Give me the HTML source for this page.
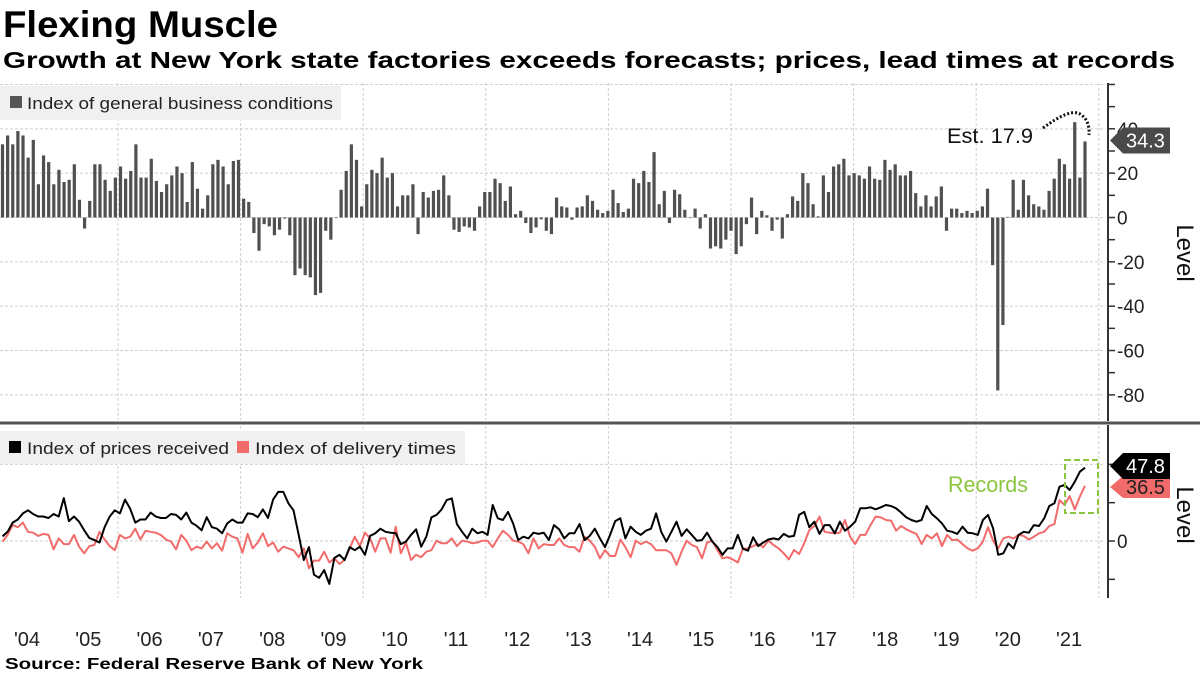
<!DOCTYPE html>
<html><head><meta charset="utf-8"><style>
html,body{margin:0;padding:0;background:#fff;}
svg{display:block;font-family:"Liberation Sans",sans-serif;}
</style></head><body>
<svg id="chart" width="1200" height="675" viewBox="0 0 1200 675" xmlns="http://www.w3.org/2000/svg">
<text x="3" y="37" font-size="37" font-weight="bold" fill="#000" textLength="275" lengthAdjust="spacingAndGlyphs">Flexing Muscle</text>
<text x="3" y="68" font-size="23" font-weight="bold" fill="#000" textLength="1172" lengthAdjust="spacingAndGlyphs">Growth at New York state factories exceeds forecasts; prices, lead times at records</text>
<g id="grid"></g>
<g id="bars"></g>
<g id="lines"></g>
<g id="axes"></g>
<rect x="0" y="421.5" width="1200" height="3" fill="#555"/>
<g>
<rect x="0" y="86" width="341" height="34" fill="#f0f0f0"/>
<rect x="10" y="96" width="12" height="12" fill="#555"/>
<text x="27" y="109" font-size="17" fill="#222" textLength="306" lengthAdjust="spacingAndGlyphs">Index of general business conditions</text>
</g>
<g>
<rect x="0" y="431" width="465" height="33" fill="#f0f0f0"/>
<rect x="9" y="441" width="12" height="12" fill="#000"/>
<text x="27" y="454" font-size="17" fill="#222" textLength="202" lengthAdjust="spacingAndGlyphs">Index of prices received</text>
<rect x="237" y="441" width="12" height="12" fill="#f26b6b"/>
<text x="255" y="454" font-size="17" fill="#222" textLength="201" lengthAdjust="spacingAndGlyphs">Index of delivery times</text>
</g>
<text x="947" y="143" font-size="21" fill="#111" textLength="86" lengthAdjust="spacingAndGlyphs">Est. 17.9</text>
<path d="M1043,128 Q1070,108 1080,114 Q1090,120 1089,135" fill="none" stroke="#111" stroke-width="3" stroke-dasharray="2,2"/>
<rect x="1065" y="460" width="33" height="53" fill="none" stroke="#8cc63f" stroke-width="2" stroke-dasharray="6,3"/>
<text x="948" y="492" font-size="22" fill="#8cc63f" textLength="80" lengthAdjust="spacingAndGlyphs">Records</text>
<g id="xlabels"></g>
<text x="5" y="669" font-size="16" font-weight="bold" fill="#000" textLength="418" lengthAdjust="spacingAndGlyphs">Source: Federal Reserve Bank of New York</text>
<text x="0" y="0" font-size="24" fill="#111" transform="translate(1177,253) rotate(90)" text-anchor="middle">Level</text>
<text x="0" y="0" font-size="24" fill="#111" transform="translate(1177,515) rotate(90)" text-anchor="middle">Level</text>
<g id="tags"></g>
</svg>
<script>
const businessValues = [33,37,33,39,37,27,35,15,28,25,15,21.5,16,17,24,8,-5,7.5,24,24,17,12,18,23,17.5,21,33,18,18,26.5,16.5,11.5,15,19,23,20,7,25,13,4,10,24,26,23,15,25.5,26,8.5,7,-7,-15,-3,-4,-8,-5.5,-0.5,-8,-26,-23,-26,-27,-35,-34,-6,-10,0,12.5,21,33,26,5,15,21.5,20,
27,18,20,5,10,10,15,-7.5,11.5,9,12,12.5,19,10,-5.5,-6.5,-4,-4.5,-6,5,11.5,11.5,17.5,15.5,7.5,14,1.5,3,-2.5,-7,-4.5,-0.8,-6,-7.5,9,5,4.5,-1,4.5,5,10,7.5,3.5,2,3,12.5,6.5,2.5,4,17.5,15.5,21,16,29.5,6,12,-2.5,12.5,10.5,3.5,0,4,-5,1.5,-14,-13,-14,-10,-6,-16.5,-13,-3,
9,-7.5,3,1,-6,-1,-9.5,1.5,9.5,7.5,20,15.5,6,0.5,19,11.5,23,24,26.5,19,20,19,17.5,23,17.5,17,26,21.5,24,19,19,21,11,5,10,5,9.5,14,-6,4,4,2,3,2,3,5,13,-21.5,-78,-48.5,0.3,17,3.5,17,10,6,5,3.5,12,17.5,26.5,24,17.5,43,18,34.3];
const pricesValues = [3,6,12,14,18,20,17.6,16,16,15,17.6,16,28,13,16,12.6,7,2,0.6,-1,9,16,20,18,27,21,12,14,14,18.5,16,15,15,17.6,17,14,18.5,12,10,7,15.5,9,8,5,11.5,14,12,12,18,17.6,15.5,20.6,15,27,32,32,24.6,20,4,-12.4,-4,-22,-24,-19,-28,-11,-9,-12.4,-4,-6,-3.7,-9,
3.3,5,8,6,5.4,5,-2,-0.4,4,7.6,-3.7,2.8,15.4,17,20.6,26.7,27.8,11,6,1.7,8,5,6,4,23.5,14.8,13.7,19,11.5,0.6,2.8,1.7,5.4,4.6,5.4,0.6,10.4,7.6,1.7,5,5,11,0.6,3.3,8,1.7,-4,4,13,14.8,1.7,9.3,6,4,6.7,8,18,6,-0.4,6,12.6,3.3,7.6,4,0.2,0.6,5.4,-0.4,-4,-9,-4.8,-4.8,4,
-5,-6.3,2.4,-3.3,-1,1,1.7,1,4.6,2.8,3.3,17,19,9,12.6,4.6,10.4,10.4,5,12.6,6.7,9.3,12.6,21.3,21.3,22,20.7,22,23.5,22.8,21.3,18.5,15.4,13.7,12.6,13.7,22.8,17.6,14.8,11.5,6.7,6,4.6,9.3,5.4,5,4,13.7,17,8.3,-9,-8,-1.5,-4.8,4,6,5.4,10.4,9.8,14.8,22.8,24.6,35.4,36.5,33.3,38.7,45.2,47.8];
const deliveryValues = [-0.4,4,10.4,9,12,6,5.4,3.3,4.6,4,-5.4,1.7,-2,-2,4,-3.7,-8,-3.3,-2.6,6,1,-3.3,-6,4,1.7,2.8,8,1,6.7,6,5.4,4,1,-0.4,-5.4,4,0.2,-6,-3.7,-4.8,-0.4,-4.8,-1.5,-6.3,5,2.8,1.7,-7.6,4.6,-4.8,-1,5,-3.3,-1,-7,-3.7,-4.8,-6,-10.6,-4.8,-17.8,-12.8,-12.8,-7,-14,-11.3,-15,-12.4,-4.8,2.8,-3.3,5.4,
1.7,-7,1.7,1.7,-7.6,9.3,-8,-1,-12.4,-9,-10.6,-7,-6,0.2,-1.5,-1.5,1.7,-3.3,0.2,-0.4,-1.5,-1,0.2,0.2,-4,1.7,6.7,4,0.2,-0.4,-2,-8,1.7,-4.8,-2,-2.6,-2.6,1.7,-2.6,-4,-4,-7,2.8,0.2,-3.7,-11.3,-6,-9.8,-9.8,1,-4,-10.6,0.2,-2,-0.4,-2,-6,-6,-6,-8,-15.6,-7,0.2,-2.6,-4,-11.3,-1,0.2,-6,-11.3,-10.6,-12,-14,
-5,-4.8,-3.3,-2,-4.1,0.2,-2.6,-4.8,-8,-12,-5.9,-8.5,-1.5,7.2,9.8,15.9,6,5.4,5,5.4,13.7,2.8,-2,4,4,10.4,15.9,15.4,13.7,13.3,6.7,9.8,7.6,6,4.6,-2,4,1.7,5,-3.3,4,0.6,1,-2,-4.8,-6.3,-4.8,-0.4,9,0.2,-4.8,1.7,2.8,1.7,4,3.3,1,2.8,5,6,9.8,11,26.7,23.5,29.3,20.6,29,36];
const yearLabels = ["'04","'05","'06","'07","'08","'09","'10","'11","'12","'13","'14","'15","'16","'17","'18","'19","'20","'21"];
const topTicks = [60,40,20,0,-20,-40,-60,-80];
const bottomTicks = [50,25,0,-25];
const lastBusiness = "34.3", lastPrices = "47.8", lastDelivery = "36.5";

const NS = "http://www.w3.org/2000/svg";
const X0 = 2.5, X1 = 1085;
function xBar(i){ return X0 + i*(X1-X0)/(businessValues.length-1); }
function xLine(i){ return X0 + i*(X1-X0)/(pricesValues.length-1); }
function yTop(v){ return 217.5 - v*2.217; }
function yBot(v){ return 541 - v*1.533; }
function mk(tag, attrs, parent){ const e=document.createElementNS(NS,tag); for(const k in attrs) e.setAttribute(k,attrs[k]); parent.appendChild(e); return e; }

const grid = document.getElementById('grid');
// horizontal grid
topTicks.forEach(v=>{
  const l = mk('line',{x1:0,x2:1105,y1:yTop(v),y2:yTop(v),stroke:'#cfcfcf','stroke-width':1,'stroke-dasharray':'3,2'},grid);
  
  
});
[50,0].forEach(v=>{
  const l = mk('line',{x1:0,x2:1105,y1:yBot(v),y2:yBot(v),stroke:'#cfcfcf','stroke-width':1,'stroke-dasharray':'3,2'},grid);
  
  
});
// vertical grid every two years
for(let k=0;k<9;k++){
  const x = 118 + k*122.6;
  const a = mk('line',{x1:x,x2:x,y1:83,y2:420,stroke:'#cfcfcf','stroke-width':1,'stroke-dasharray':'3,2'},grid);
  
  
  const b = mk('line',{x1:x,x2:x,y1:426,y2:598,stroke:'#cfcfcf','stroke-width':1,'stroke-dasharray':'3,2'},grid);
  
  
}

// bars
const bars = document.getElementById('bars');
businessValues.forEach((v,i)=>{
  const y0 = yTop(0), y1 = yTop(v);
  const r = mk('rect',{x:xBar(i)-1.6,y:Math.min(y0,y1),width:3.2,height:Math.max(0.6,Math.abs(y1-y0)),fill:'#505050'},bars);
  
  
});

// lines
const lines = document.getElementById('lines');
function pathOf(arr){ return arr.map((v,i)=>(i?'L':'M')+xLine(i).toFixed(1)+','+yBot(v).toFixed(1)).join(' '); }
const pd = mk('path',{d:pathOf(deliveryValues),fill:'none',stroke:'#f26b6b','stroke-width':2,'stroke-linejoin':'round'},lines);


const pp = mk('path',{d:pathOf(pricesValues),fill:'none',stroke:'#000','stroke-width':2,'stroke-linejoin':'round'},lines);



// axes
const axes = document.getElementById('axes');
const ax1 = mk('line',{x1:1108,x2:1108,y1:83,y2:421,stroke:'#333','stroke-width':2},axes);


const ax2 = mk('line',{x1:1108,x2:1108,y1:425,y2:598,stroke:'#333','stroke-width':2},axes);


for(let v=60; v>=-80; v-=10){
  const t = mk('line',{x1:1108,x2:1115,y1:yTop(v),y2:yTop(v),stroke:'#333','stroke-width':1.5},axes);
  
  
}
topTicks.forEach(v=>{
  if(v===60) return;
  const t = mk('text',{x:1117,y:yTop(v)+7,'font-size':19,fill:'#222'},axes);
  t.textContent = String(v);
  
  
});
bottomTicks.forEach(v=>{
  const t = mk('line',{x1:1108,x2:1115,y1:yBot(v),y2:yBot(v),stroke:'#333','stroke-width':1.5},axes);
  
  
});
const z = mk('text',{x:1117,y:yBot(0)+7,'font-size':19,fill:'#222'},axes);
z.textContent='0';



// x labels
const xl = document.getElementById('xlabels');
yearLabels.forEach((s,k)=>{
  const t = mk('text',{x:27+k*61.3,y:646,'font-size':20,fill:'#222','text-anchor':'middle'},xl);
  t.textContent = s;
  
  
});

// value tags
const tags = document.getElementById('tags');
function tag(yc, h, fill, txtFill, label, name){
  const g = mk('g',{},tags);
  
  
  mk('path',{d:`M1110,${yc} L1123,${yc-h/2} L1170,${yc-h/2} L1170,${yc+h/2} L1123,${yc+h/2} Z`,fill:fill},g);
  const t = mk('text',{x:1126,y:yc+7,'font-size':20,fill:txtFill},g);
  t.textContent = label;
}
tag(yTop(parseFloat(lastBusiness))+64-65, 26, '#4a4a4a', '#fff', lastBusiness, 'business-last-value-tag');
tag(487, 22, '#f26b6b', '#222', lastDelivery, 'delivery-last-value-tag');
tag(466, 26, '#000', '#fff', lastPrices, 'prices-last-value-tag');
</script>
</body></html>
